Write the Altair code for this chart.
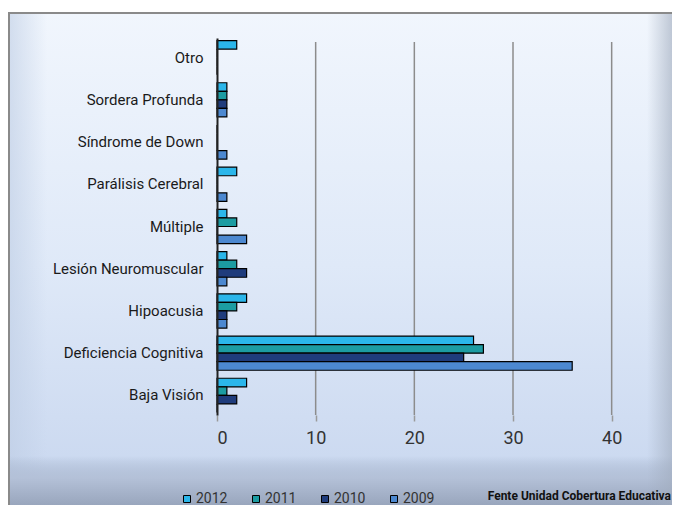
import altair as alt
import pandas as pd

categories = ["Otro", "Sordera Profunda", "Síndrome de Down", "Parálisis Cerebral",
              "Múltiple", "Lesión Neuromuscular", "Hipoacusia",
              "Deficiencia Cognitiva", "Baja Visión"]
years = ["2012", "2011", "2010", "2009"]
v2012 = [2, 1, 0, 2, 1, 1, 3, 26, 3]
v2011 = [0, 1, 0, 0, 2, 2, 2, 27, 1]
v2010 = [0, 1, 0, 0, 0, 3, 1, 25, 2]
v2009 = [0, 1, 1, 1, 3, 1, 1, 36, 0]
colors = ["#2BB6EA", "#1C9CA2", "#1F3C7C", "#4C88D0"]
x_ticks = [0, 10, 20, 30, 40]
source_text = "Fente  Unidad Cobertura Educativa"

series = {"2012": v2012, "2011": v2011, "2010": v2010, "2009": v2009}
rows = []
for yr in years:
    for c, v in zip(categories, series[yr]):
        rows.append({"Categoria": c, "Año": yr, "Valor": v})
df = pd.DataFrame(rows)
grid_df = pd.DataFrame({"Valor": x_ticks[1:]})

FONT = "Liberation Sans Narrow, Roboto, sans-serif"
W, H = 444, 377
one = pd.DataFrame({"a": [0]})


def grad(stops, vertical=True):
    return {
        "gradient": "linear",
        "x1": 0, "y1": 0,
        "x2": 0 if vertical else 1,
        "y2": 1 if vertical else 0,
        "stops": [{"offset": o, "color": c} for o, c in stops],
    }


bg_main = alt.Chart(one).mark_rect(
    fill=grad([(0, "#f1f6fd"), (0.5, "#dfe9f8"), (1, "#c6d5ee")]),
    stroke="#8a8a8a", strokeWidth=2,
).encode(x=alt.value(-208), x2=alt.value(470), y=alt.value(-25), y2=alt.value(480))

bg_left = alt.Chart(one).mark_rect(
    fill=grad([(0, "rgba(190,205,228,0.6)"), (1, "rgba(190,205,228,0)")], vertical=False),
).encode(x=alt.value(-207), x2=alt.value(-170), y=alt.value(-24), y2=alt.value(470))

bg_bottom = alt.Chart(one).mark_rect(
    fill=grad([(0, "rgba(160,175,200,0)"), (0.35, "#b4c1d8"), (1, "#8c99b0")]),
).encode(x=alt.value(-207), x2=alt.value(470), y=alt.value(418), y2=alt.value(480))

bg_right = alt.Chart(one).mark_rect(
    fill=grad([(0, "rgba(160,172,190,0)"), (1, "#a0abbd")], vertical=False),
).encode(x=alt.value(430), x2=alt.value(470), y=alt.value(-24), y2=alt.value(480))

xscale = alt.Scale(domain=[0, 45], nice=False)

grid = alt.Chart(grid_df).mark_rule(color="#8c8c8c", strokeWidth=1.5).encode(
    x=alt.X("Valor:Q", scale=xscale),
    y=alt.value(4), y2=alt.value(H),
)

bars = alt.Chart(df).mark_bar(stroke="#000000", strokeWidth=1.2).encode(
    x=alt.X("Valor:Q", scale=xscale,
            axis=alt.Axis(values=x_ticks, title=None, grid=False, domain=False,
                          tickColor="#9a9a9a", tickSize=6, tickWidth=1.5,
                          labelFont=FONT, labelFontSize=18, labelColor="#333333",
                          labelPadding=8, zindex=1)),
    y=alt.Y("Categoria:N", sort=categories,
            scale=alt.Scale(paddingInner=0.19, paddingOuter=0.06),
            axis=alt.Axis(title=None, ticks=False, domain=True,
                          domainColor="#222222", domainWidth=2,
                          labelFont=FONT, labelFontSize=15, labelColor="#1a1a1a",
                          labelPadding=14, zindex=1)),
    yOffset=alt.YOffset("Año:N", sort=years),
    fill=alt.Color("Año:N", sort=years,
                   scale=alt.Scale(domain=years, range=colors),
                   legend=alt.Legend(title=None, orient="none", direction="horizontal",
                                     legendX=-37, legendY=454, columns=4,
                                     symbolType="square", symbolSize=49,
                                     symbolStrokeColor="#000000", symbolStrokeWidth=1,
                                     labelFont=FONT, labelFontSize=14,
                                     labelColor="#333333", labelOffset=2,
                                     columnPadding=21, padding=0, zindex=1)),
)

source = alt.Chart(one).mark_text(
    text=source_text, font=FONT, fontSize=12, fontWeight="bold",
    align="right", baseline="middle", color="#111111",
).encode(x=alt.value(454), y=alt.value(458))

chart = alt.layer(bg_main, bg_left, bg_bottom, bg_right, grid, bars, source).properties(
    width=W, height=H,
    autosize=alt.AutoSizeParams(type="none"),
    padding={"left": 209, "top": 30, "right": 11, "bottom": 90},
    background="#ffffff",
).configure_view(stroke=None)

chart.save("out.html", embed_options={"renderer": "svg", "actions": False})
